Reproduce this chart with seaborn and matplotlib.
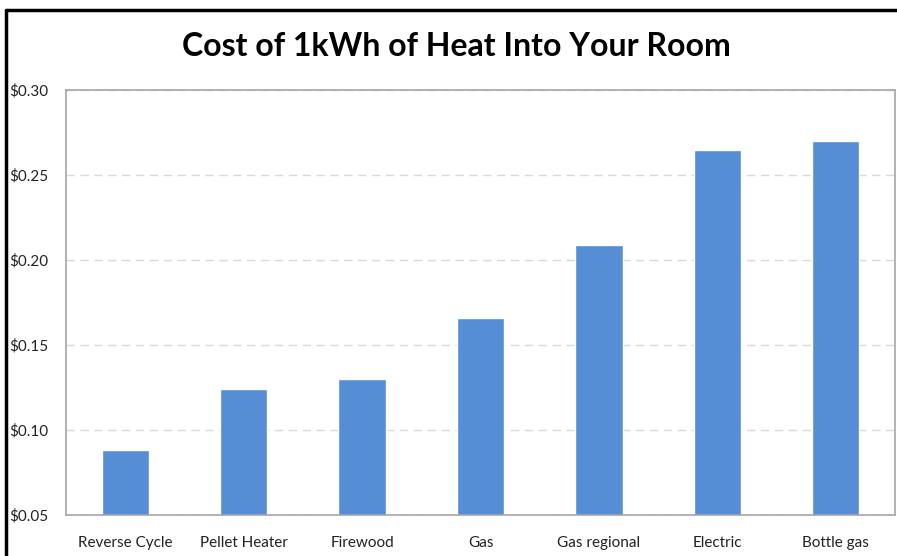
import matplotlib
matplotlib.use('Agg')
import matplotlib.pyplot as plt
import seaborn as sns
import pandas as pd
from matplotlib.ticker import FuncFormatter, MultipleLocator
from matplotlib.lines import Line2D

heaters = ['Reverse Cycle', 'Pellet Heater', 'Firewood', 'Gas',
           'Gas regional', 'Electric', 'Bottle gas']
cost = [0.088, 0.124, 0.130, 0.166, 0.209, 0.265, 0.270]

df = pd.DataFrame({'heater': heaters, 'cost': cost})

sns.set_style('white')
plt.rcParams['font.family'] = ['Lato', 'DejaVu Sans']

fig = plt.figure(figsize=(8.97, 5.56), dpi=100)
ax = fig.add_axes([66 / 897, 1 - 515 / 556, (895 - 66) / 897, (515 - 90) / 556])

sns.barplot(data=df, x='heater', y='cost', color='#558ED5', width=0.4,
            saturation=1, ax=ax)

ax.set_ylim(0.05, 0.30)
ax.set_xlim(-0.5, len(heaters) - 0.5)
ax.yaxis.set_major_locator(MultipleLocator(0.05))
ax.yaxis.set_major_formatter(FuncFormatter(lambda v, p: f'${v:.2f}'))
ax.yaxis.grid(True, color='#D9D9D9', linestyle=(0, (6, 4)), linewidth=1)
ax.set_axisbelow(True)
ax.set_xlabel('')
ax.set_ylabel('')

for s in ax.spines.values():
    s.set_visible(True)
    s.set_color('#A6A6A6')
    s.set_linewidth(1.2)

# minor ticks between categories, like the reference
ax.set_xticks([i + 0.5 for i in range(len(heaters) - 1)], minor=True)
ax.tick_params(axis='x', which='minor', direction='in', length=4, color='#A6A6A6')
ax.tick_params(axis='x', which='major', length=0, pad=15, labelsize=11)
ax.tick_params(axis='y', length=0, pad=13, labelsize=11)
for lab in ax.get_xticklabels() + ax.get_yticklabels():
    lab.set_color('#222222')

fig.text(456 / 897, 1 - 47 / 556, 'Cost of 1kWh of Heat Into Your Room',
         ha='center', va='center', fontsize=23, fontweight='bold', color='black')

# outer chart border (left and top visible)
fig.add_artist(Line2D([6 / 897, 6 / 897], [0, 1 - 10 / 556], color='black',
                      linewidth=2.5, transform=fig.transFigure))
fig.add_artist(Line2D([6 / 897, 1], [1 - 10 / 556, 1 - 10 / 556], color='black',
                      linewidth=2.5, transform=fig.transFigure))

fig.savefig('out.png', dpi=100)
